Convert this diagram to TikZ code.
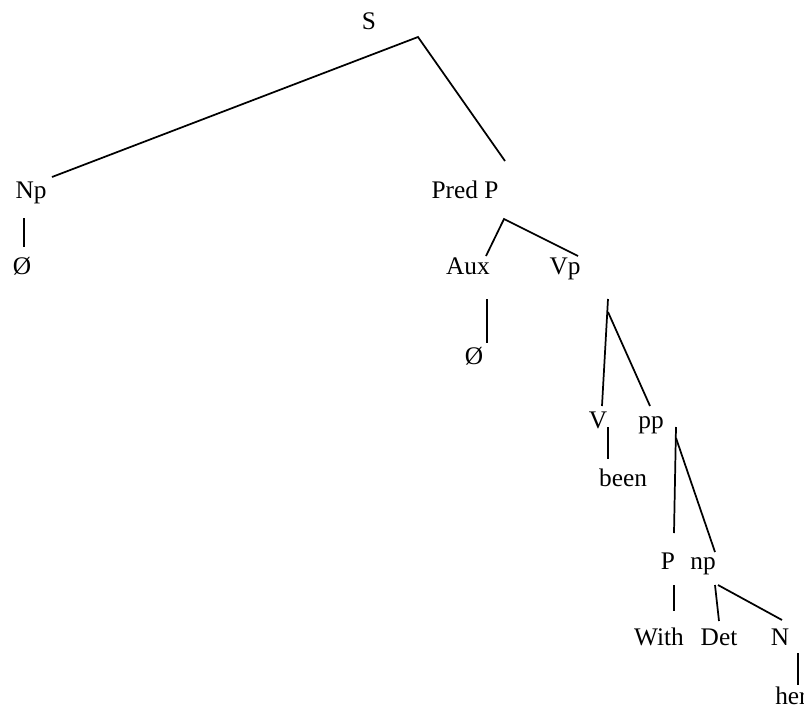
\documentclass[tikz,border=0pt]{standalone}
\usepackage{fontspec}
\setmainfont{Liberation Serif}
\begin{document}
\begin{tikzpicture}[x=0.75pt,y=-0.75pt,
  lbl/.style={anchor=base,inner sep=0pt,font=\fontsize{19}{22}\selectfont},
  edge/.style={line width=1.3pt,line cap=butt}]
\useasboundingbox (0,0) rectangle (804,707);
% labels
\node[lbl] (S) at (369,29) {S};
\node[lbl] (Np) at (31,198) {Np};
\node[lbl] (null1) at (22,274) {Ø};
\node[lbl] (PredP) at (465,198) {Pred P};
\node[lbl] (Aux) at (468,274) {Aux};
\node[lbl] (Vp) at (565,274) {Vp};
\node[lbl] (null2) at (474,364) {Ø};
\node[lbl] (V) at (598,428) {V};
\node[lbl] (pp) at (651,428) {pp};
\node[lbl] (been) at (623,486) {been};
\node[lbl] (P) at (668,569) {P};
\node[lbl] (np) at (703,569) {np};
\node[lbl] (With) at (659,645) {With};
\node[lbl] (Det) at (719,645) {Det};
\node[lbl] (N) at (780,645) {N};
\node[lbl,anchor=base west] (her) at (775,704) {her};
% connector end points
\coordinate (s0) at (418,37);
\coordinate (np0) at (52,177);
\coordinate (pr0) at (505,161);
\coordinate (npA) at (24,218);
\coordinate (npB) at (24,247);
\coordinate (pp0) at (504,219);
\coordinate (aux0) at (486,256);
\coordinate (vp0) at (578,256);
\coordinate (auxA) at (487,299);
\coordinate (auxB) at (487,343);
\coordinate (vpA) at (608,299);
\coordinate (vpB) at (608,312);
\coordinate (v0) at (602,406);
\coordinate (ppx) at (650,406);
\coordinate (vA) at (608,427);
\coordinate (vB) at (608,459);
\coordinate (ppA) at (676,427);
\coordinate (ppB) at (676,438);
\coordinate (p0) at (674,533);
\coordinate (npx) at (715,552);
\coordinate (pA) at (674,585);
\coordinate (pB) at (674,611);
\coordinate (npC) at (715,585);
\coordinate (det0) at (719,621);
\coordinate (npD) at (718,585);
\coordinate (n0) at (782,620);
\coordinate (nA) at (798,653);
\coordinate (nB) at (798,685);
% connectors
\draw[edge] (np0) -- (s0) -- (pr0);
\draw[edge] (npA) -- (npB);
\draw[edge] (aux0) -- (pp0) -- (vp0);
\draw[edge] (auxA) -- (auxB);
\draw[edge] (vpA) -- (v0);
\draw[edge] (vpB) -- (ppx);
\draw[edge] (vA) -- (vB);
\draw[edge] (ppA) -- (p0);
\draw[edge] (ppB) -- (npx);
\draw[edge] (pA) -- (pB);
\draw[edge] (npC) -- (det0);
\draw[edge] (npD) -- (n0);
\draw[edge] (nA) -- (nB);
\end{tikzpicture}
\end{document}
